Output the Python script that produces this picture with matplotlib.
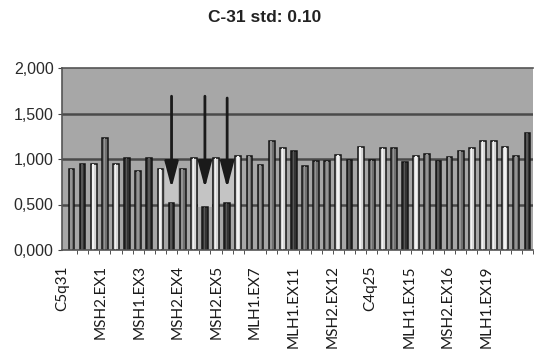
import matplotlib
matplotlib.use("Agg")
import matplotlib.pyplot as plt
import numpy as np
from matplotlib.patches import Rectangle

# ---- data ----
title = "C-31 std: 0.10"
values = [0.89, 0.95, 0.95, 1.23, 0.95, 1.01, 0.87, 1.01, 0.89, 0.52,
          0.89, 1.01, 0.47, 1.01, 0.52, 1.03, 1.03, 0.93, 1.20, 1.12,
          1.09, 0.92, 0.98, 0.98, 1.04, 0.99, 1.13, 0.99, 1.12, 1.12,
          0.97, 1.03, 1.05, 0.98, 1.02, 1.09, 1.12, 1.20, 1.20, 1.13,
          1.03, 1.29]
shades = ['m', 'd', 'l', 'm', 'l', 'd', 'm', 'd', 'l', 'd',
          'm', 'l', 'd', 'l', 'd', 'l', 'm', 'm', 'm', 'l',
          'd', 'm', 'm', 'm', 'l', 'd', 'l', 'm', 'l', 'm',
          'd', 'l', 'm', 'd', 'm', 'm', 'l', 'l', 'l', 'l',
          'm', 'd']
tick_labels = ["C5q31", "MSH2.EX1", "MSH1.EX3", "MSH2.EX4", "MSH2.EX5",
               "MLH1.EX7", "MLH1.EX11", "MSH2.EX12", "C4q25", "MLH1.EX15",
               "MSH2.EX16", "MLH1.EX19"]
arrow_bars = [9, 12, 14]
arrow_tops = [1.69, 1.69, 1.67]
y_ticks = [0.0, 0.5, 1.0, 1.5, 2.0]

shade_col = {'d': '#333333', 'm': '#707070', 'l': '#d6d6d6'}
shade_hi = {'d': '#575757', 'm': '#949494', 'l': '#f2f2f2'}

W, H = 534, 349
fig = plt.figure(figsize=(W / 100, H / 100), dpi=100)
ax = fig.add_axes([62 / W, 1 - 250 / H, (533 - 62) / W, (250 - 68) / H])
ax.set_facecolor('#a7a7a7')

x = np.arange(len(values))
ax.set_xlim(-0.45, len(values) - 1 + 0.45)
ax.set_ylim(0, 2.0)

# gridlines
for yv in y_ticks[1:4]:
    ax.axhline(yv, color='#4a4a4a', lw=1.8, zorder=0.5)

# light boxes behind arrow heads
for b in arrow_bars:
    ax.add_patch(Rectangle((b - 0.6, values[b]), 1.2, 0.99 - values[b],
                           facecolor='#c4c4c4', edgecolor='none', zorder=0.6))

ax.bar(x, values, width=0.52, color=[shade_col[s] for s in shades],
       edgecolor='#141414', linewidth=1.1, zorder=2)
ax.bar(x - 0.04, values, width=0.14, color=[shade_hi[s] for s in shades],
       edgecolor='none', zorder=2.5)

# arrows
for b, top in zip(arrow_bars, arrow_tops):
    ax.annotate('', xy=(b, 0.68), xytext=(b, top),
                arrowprops=dict(arrowstyle='-|>,head_length=1.6,head_width=0.42',
                                color='#1a1a1a', lw=2.0, shrinkA=0, shrinkB=0),
                zorder=5)

# axes styling
ax.set_yticks(y_ticks)
ax.set_yticklabels([f"{v:.3f}".replace('.', ',') for v in y_ticks],
                   fontsize=11.5, family='Liberation Sans', color='#2a2a2a')
ax.tick_params(axis='y', length=3, color='#444444', pad=3)

label_pos = [-0.85 + 3.47 * k for k in range(len(tick_labels))]
ax.set_xticks(label_pos)
ax.set_xticklabels(tick_labels, rotation=90, fontsize=11, family='Lato',
                   color='#1a1a1a')
ax.tick_params(axis='x', length=0, pad=11)
ax.set_xticks(x + 0.5, minor=True)
ax.tick_params(axis='x', which='minor', length=3, color='#333333')

for side in ['left', 'top', 'bottom']:
    ax.spines[side].set_color('#555555')
    ax.spines[side].set_linewidth(1.2)
ax.spines['right'].set_visible(False)

fig.text(265 / W, 1 - 18 / H, title, ha='center', va='center',
         fontsize=12.5, fontweight='bold', family='Liberation Sans',
         color='#222222')

fig.savefig('out.png', dpi=100)
